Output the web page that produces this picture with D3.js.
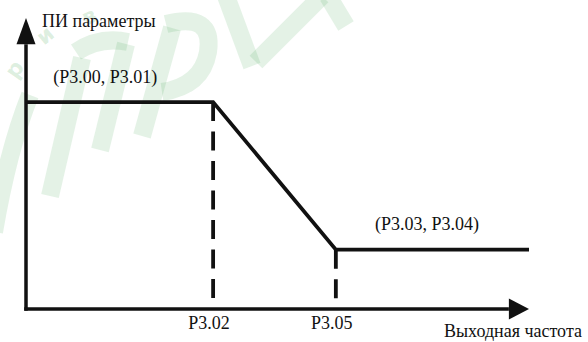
<!DOCTYPE html>
<html lang="ru">
<head>
    <meta charset="UTF-8">
    <title>ПИ параметры</title>
    <script src="https://d3js.org/d3.v7.min.js"></script>
    <style>
        body {
            margin: 0;
            padding: 0;
            background: #fff;
        }
    </style>
</head>
<body>
    <svg id="chart"></svg>

    <script>
        // Curve breakpoints (output frequency, PI parameter level), in % of axis length
        const freqs = [0, 37.2, 61.6, 100];
        const levels = [71.1, 71.1, 20.4, 20.4];

        // Marked frequencies on the horizontal axis
        const markFreqs = [37.2, 61.6];
        const markLevels = [71.1, 20.4];
        const markLabels = ["P3.02", "P3.05"];

        // Point labels above the two plateaus
        const pointLabels = ["(P3.00, P3.01)", "(P3.03, P3.04)"];
        const pointFreqs = [5.4, 69.4];
        const pointLevels = [77.5, 27.2];

        const yTitle = "ПИ параметры";
        const xTitle = "Выходная частота";

        const width = 588, height = 342;
        const font = "'Liberation Serif', 'Times New Roman', Tinos, serif";

        const svg = d3.select("#chart")
            .attr("width", width)
            .attr("height", height)
            .attr("font-family", font)
            .attr("font-size", 18);

        // faint logo watermark in the background
        const wm = svg.append("g")
            .attr("fill", "none")
            .attr("stroke", "#2e9e3e")
            .attr("stroke-opacity", 0.13)
            .attr("stroke-width", 18);
        [
            "M -6,232 Q 8,150 30,95",
            "M 50,196 L 82,58",
            "M 76,52 Q 100,36 128,42",
            "M 126,44 L 100,150",
            "M 142,136 L 172,28",
            "M 166,24 Q 214,12 208,52 Q 202,86 162,92",
            "M 226,-4 L 252,66",
            "M 322,-4 L 256,62",
            "M 328,-4 L 346,26"
        ].forEach(d => wm.append("path").attr("d", d));

        const wmText = svg.append("g")
            .attr("fill", "#2e9e3e")
            .attr("fill-opacity", 0.16)
            .attr("font-family", "'DejaVu Sans', sans-serif")
            .attr("font-size", 22)
            .attr("font-weight", "bold");
        [["р", 16, 80, -55], ["и", 44, 46, -40], ["в", 86, 26, -25]].forEach(([t, tx, ty, r]) => {
            wmText.append("text")
                .attr("transform", `translate(${tx},${ty}) rotate(${r})`)
                .text(t);
        });

        const x = d3.scaleLinear().domain([0, 100]).range([26, 529]);
        const y = d3.scaleLinear().domain([0, 100]).range([309, 18]);

        // Axes with arrow heads
        const axes = svg.append("g").attr("stroke", "#111").attr("stroke-width", 3.5);
        axes.append("line")
            .attr("x1", x(0)).attr("y1", y(0) + 1.75)
            .attr("x2", x(0)).attr("y2", y(91));
        axes.append("line")
            .attr("x1", x(0) - 1.75).attr("y1", y(0))
            .attr("x2", x(96)).attr("y2", y(0));

        svg.append("path")
            .attr("fill", "#111")
            .attr("d", `M${x(0)},${y(100)} L${x(0) + 9.5},${y(91)} L${x(0) - 9.5},${y(91)} Z`);
        svg.append("path")
            .attr("fill", "#111")
            .attr("d", `M${x(100)},${y(0)} L${x(96)},${y(0) - 10.5} L${x(96)},${y(0) + 10.5} Z`);

        // Dashed drop lines
        svg.selectAll(".drop")
            .data(markFreqs)
            .enter()
            .append("line")
            .attr("class", "drop")
            .attr("x1", d => x(d)).attr("x2", d => x(d))
            .attr("y1", (d, i) => y(markLevels[i]))
            .attr("y2", y(0))
            .attr("stroke", "#111")
            .attr("stroke-width", 3.8)
            .attr("stroke-dasharray", "19,10.5");

        // PI parameter curve
        const line = d3.line()
            .x(d => x(d[0]))
            .y(d => y(d[1]));
        svg.append("path")
            .datum(freqs.map((f, i) => [f, levels[i]]))
            .attr("d", line)
            .attr("fill", "none")
            .attr("stroke", "#111")
            .attr("stroke-width", 3.8)
            .attr("stroke-linejoin", "miter");

        // Labels
        svg.selectAll(".mark-label")
            .data(markLabels)
            .enter()
            .append("text")
            .attr("class", "mark-label")
            .attr("x", (d, i) => x(markFreqs[i]) - 4)
            .attr("y", 329)
            .attr("text-anchor", "middle")
            .attr("fill", "#111")
            .text(d => d);

        svg.selectAll(".point-label")
            .data(pointLabels)
            .enter()
            .append("text")
            .attr("class", "point-label")
            .attr("x", (d, i) => x(pointFreqs[i]))
            .attr("y", (d, i) => y(pointLevels[i]))
            .attr("fill", "#111")
            .text(d => d);

        svg.append("text")
            .attr("x", 42)
            .attr("y", 27)
            .attr("fill", "#111")
            .text(yTitle);

        svg.append("text")
            .attr("x", 444)
            .attr("y", 337)
            .attr("fill", "#111")
            .text(xTitle);
    </script>
</body>
</html>
